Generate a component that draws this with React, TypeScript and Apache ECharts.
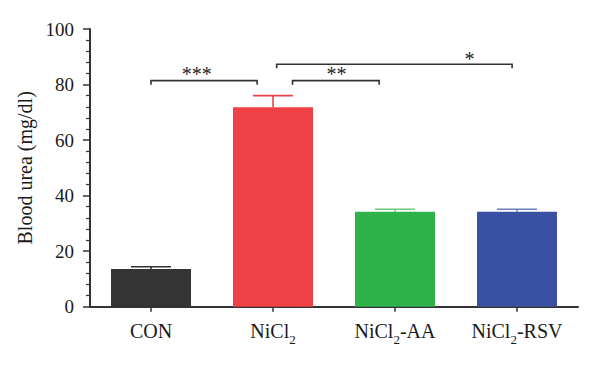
import React, { useEffect, useRef } from "react";
import * as echarts from "echarts";

const categories = ["CON", "NiCl2", "NiCl2-AA", "NiCl2-RSV"];
const categoryLabels = ["CON", "NiCl{sub|2}", "NiCl{sub|2}-AA", "NiCl{sub|2}-RSV"];
const means = [13.6, 71.8, 34.2, 34.2];
const errors = [0.8, 4.2, 0.9, 0.9];
const barColors = ["#343434", "#EF4146", "#2EB34B", "#3A50A2"];
const errorColors = ["#343434", "#EF4146", "#6CC87C", "#6A7CC0"];

const yTicks = [0, 20, 40, 60, 80, 100];

// significance brackets: start / end as category positions, height in data units
const bracketStart = [0, 1.03, 1.16];
const bracketEnd = [0.87, 2.96, 1.87];
const bracketY = [81.4, 87.3, 81.4];
const starLabels = ["***", "*", "**"];
const starX = [0.375, 2.61, 1.52];
const starY = [83.8, 89.3, 83.8];

const FONT = "'Liberation Serif', 'DejaVu Serif', serif";

function catPoint(api: any, x: number, y: number) {
  const base = Math.floor(x);
  const frac = x - base;
  const p = api.coord([base, y]);
  const band = api.size([1, 0])[0];
  return [p[0] + frac * band, p[1]];
}

export default function App() {
  const ref = useRef<HTMLDivElement>(null);
  useEffect(() => {
    document.body.style.margin = "0";
    if (!ref.current) return;
    const chart = echarts.init(ref.current, null, { renderer: "svg" });
    chart.setOption({
      animation: false,
      grid: { left: 90, right: 22, top: 29, bottom: 59.3 },
      xAxis: {
        type: "category",
        data: categories,
        boundaryGap: true,
        axisLine: { lineStyle: { color: "#333", width: 2 } },
        axisTick: { show: true, alignWithLabel: true, length: 5, lineStyle: { color: "#333", width: 1.5 } },
        axisLabel: {
          interval: 0,
          margin: 14,
          verticalAlign: "top",
          fontFamily: FONT,
          fontSize: 20,
          color: "#1a1a1a",
          formatter: (_v: string, i: number) => "{m|" + categoryLabels[i].replace(/\{sub\|2\}/g, "}{sub|2}{m|") + "}",
          rich: {
            m: { fontFamily: FONT, fontSize: 20, color: "#1a1a1a", lineHeight: 22, verticalAlign: "top" },
            sub: { fontFamily: FONT, fontSize: 13, color: "#1a1a1a", lineHeight: 14, verticalAlign: "top", padding: [12, 0, 0, 0] },
          },
        },
      },
      yAxis: {
        type: "value",
        min: 0,
        max: 100,
        interval: 20,
        name: "Blood urea (mg/dl)",
        nameLocation: "middle",
        nameGap: 49,
        nameTextStyle: { fontFamily: FONT, fontSize: 20, color: "#1a1a1a" },
        axisLine: { show: true, lineStyle: { color: "#333", width: 2 } },
        axisTick: { show: true, length: 7, lineStyle: { color: "#333", width: 1.5 } },
        minorTick: { show: true, splitNumber: 5, length: 4, lineStyle: { color: "#333", width: 1.2 } },
        splitLine: { show: false },
        axisLabel: {
          margin: 16,
          fontFamily: FONT,
          fontSize: 19,
          color: "#1a1a1a",
          formatter: (v: number) => (yTicks.includes(v) ? String(v) : ""),
        },
      },
      series: [
        {
          type: "bar",
          barWidth: 80,
          data: means.map((m, i) => ({ value: m, itemStyle: { color: barColors[i] } })),
          z: 2,
        },
        {
          type: "custom",
          z: 3,
          data: means.map((m, i) => [i, m, m + errors[i]]),
          renderItem: (params: any, api: any) => {
            const i = params.dataIndex;
            const lo = api.coord([i, means[i]]);
            const hi = api.coord([i, means[i] + errors[i]]);
            const half = 20;
            const style = { stroke: errorColors[i], lineWidth: 1.6, fill: null };
            return {
              type: "group",
              children: [
                { type: "line", shape: { x1: lo[0], y1: lo[1], x2: hi[0], y2: hi[1] }, style },
                { type: "line", shape: { x1: hi[0] - half, y1: hi[1], x2: hi[0] + half, y2: hi[1] }, style },
              ],
            };
          },
        },
        {
          type: "custom",
          z: 4,
          data: bracketY.map((y, i) => [i, y]),
          renderItem: (params: any, api: any) => {
            const i = params.dataIndex;
            const a = catPoint(api, bracketStart[i], bracketY[i]);
            const b = catPoint(api, bracketEnd[i], bracketY[i]);
            const s = catPoint(api, starX[i], starY[i]);
            const drop = 4;
            return {
              type: "group",
              children: [
                {
                  type: "polyline",
                  shape: { points: [[a[0], a[1] + drop], [a[0], a[1]], [b[0], b[1]], [b[0], b[1] + drop]] },
                  style: { stroke: "#333", lineWidth: 1.6, fill: null },
                },
                {
                  type: "text",
                  x: s[0],
                  y: s[1],
                  style: {
                    text: starLabels[i],
                    fontFamily: FONT,
                    fontSize: 20,
                    fill: "#222",
                    align: "center",
                    verticalAlign: "middle",
                  },
                },
              ],
            };
          },
        },
      ],
    });
    return () => chart.dispose();
  }, []);
  return <div ref={ref} style={{ width: 600, height: 366 }} />;
}
